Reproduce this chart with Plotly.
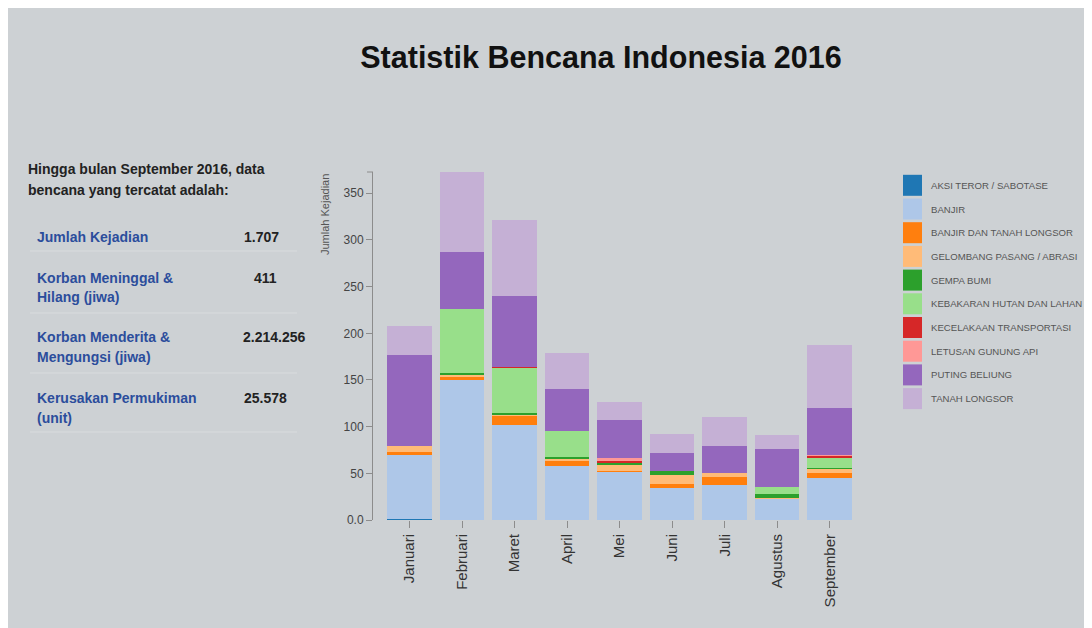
import plotly.graph_objects as go

# ---------------- data ----------------
months = ["Januari", "Februari", "Maret", "April", "Mei", "Juni", "Juli", "Agustus", "September"]

series_names = [
    "AKSI TEROR / SABOTASE", "BANJIR", "BANJIR DAN TANAH LONGSOR",
    "GELOMBANG PASANG / ABRASI", "GEMPA BUMI", "KEBAKARAN HUTAN DAN LAHAN",
    "KECELAKAAN TRANSPORTASI", "LETUSAN GUNUNG API", "PUTING BELIUNG", "TANAH LONGSOR",
]
colors = ["#1f77b4", "#aec7e8", "#ff7f0e", "#ffbb78", "#2ca02c",
          "#98df8a", "#d62728", "#ff9896", "#9467bd", "#c5b0d5"]

aksi_teror = [1, 0, 0, 0, 0, 0, 0, 0, 0]
banjir = [69, 150, 102, 58, 52, 34, 37, 23, 45]
banjir_tanah_longsor = [3, 3, 10, 6, 1, 5, 9, 0, 5]
gelombang_pasang = [6, 3, 1, 2, 6, 9, 4, 1, 5]
gempa_bumi = [0, 2, 2, 1, 2, 5, 0, 4, 1]
kebakaran_hutan = [0, 68, 48, 28, 0, 0, 0, 7, 10]
kecelakaan_transportasi = [0, 0, 1, 0, 3, 0, 0, 0, 3]
letusan_gunung_api = [0, 0, 0, 0, 2, 0, 0, 0, 1]
puting_beliung = [98, 61, 76, 45, 41, 19, 29, 41, 50]
tanah_longsor = [31, 86, 81, 39, 19, 20, 31, 15, 68]

series_values = [aksi_teror, banjir, banjir_tanah_longsor, gelombang_pasang, gempa_bumi,
                 kebakaran_hutan, kecelakaan_transportasi, letusan_gunung_api,
                 puting_beliung, tanah_longsor]

y_tick_vals = [0, 50, 100, 150, 200, 250, 300, 350]
y_tick_text = ["0.0", "50", "100", "150", "200", "250", "300", "350"]

summary_header = ["Hingga bulan September 2016, data", "bencana yang tercatat adalah:"]
summary_labels = [["Jumlah Kejadian"], ["Korban Meninggal &", "Hilang (jiwa)"],
                  ["Korban Menderita &", "Mengungsi (jiwa)"], ["Kerusakan Permukiman", "(unit)"]]
summary_values = ["1.707", "411", "2.214.256", "25.578"]

# ---------------- layout geometry (pixels) ----------------
# page body has an 8px margin, so figure pixel = screen pixel - 8
OFF = 8
W, H = 1092, 628
L, T = 373 - OFF, 172 - OFF
PW, PH = 483, 348
R = W - L - PW
B = H - T - PH


def pxx(x):  # screen x -> paper x
    return (x - OFF - L) / PW


def pxy(y):  # screen y -> paper y
    return (T + PH - (y - OFF)) / PH


BG = "#cdd1d4"
FONT = "Liberation Sans, Arial, sans-serif"

fig = go.Figure()
for name, vals, col in zip(series_names, series_values, colors):
    fig.add_trace(go.Bar(x=months, y=vals, name=name, marker=dict(color=col, line=dict(width=0)),
                         showlegend=False))

shapes = []
annotations = []

# outer tick at top of y axis
shapes.append(dict(type="line", xref="paper", yref="paper", x0=-6 / PW, x1=0, y0=1, y1=1,
                   line=dict(color="#8c8c8c", width=1)))

# legend (swatch + label per series)
for i, (name, col) in enumerate(zip(series_names, colors)):
    cy = 185.3 + 23.7 * i
    shapes.append(dict(type="rect", xref="paper", yref="paper", x0=pxx(903), x1=pxx(922),
                       y0=pxy(cy + 10.5), y1=pxy(cy - 10.5), fillcolor=col, line=dict(width=0)))
    annotations.append(dict(text=name, xref="paper", yref="paper", x=pxx(929), y=pxy(cy),
                            xanchor="left", yanchor="middle", showarrow=False,
                            font=dict(family=FONT, size=9.6, color="#555555")))

# left summary panel
for txt, y in zip(summary_header, [169, 190]):
    annotations.append(dict(text="<b>%s</b>" % txt, xref="paper", yref="paper", x=pxx(26), y=pxy(y),
                            xanchor="left", yanchor="middle", showarrow=False,
                            font=dict(family=FONT, size=14, color="#222222")))

row_y = [[237], [277.7, 296.7], [336.7, 356.7], [398.3, 418.3]]
for lines, ys in zip(summary_labels, row_y):
    for txt, y in zip(lines, ys):
        annotations.append(dict(text="<b>%s</b>" % txt, xref="paper", yref="paper", x=pxx(35), y=pxy(y),
                                xanchor="left", yanchor="middle", showarrow=False,
                                font=dict(family=FONT, size=14, color="#2b4d9c")))

value_pos = [(242, "left"), (279, "right"), (241, "left"), (242, "left")]
for val, (x, anc), ys in zip(summary_values, value_pos, row_y):
    annotations.append(dict(text="<b>%s</b>" % val, xref="paper", yref="paper", x=pxx(x), y=pxy(ys[0]),
                            xanchor=anc, yanchor="middle", showarrow=False,
                            font=dict(family=FONT, size=14, color="#222222")))

for y in [251, 313, 373, 432]:
    shapes.append(dict(type="line", xref="paper", yref="paper", x0=pxx(30), x1=pxx(297),
                       y0=pxy(y), y1=pxy(y), line=dict(color="#d9dcde", width=1)))

# y axis title
annotations.append(dict(text="Jumlah Kejadian", xref="paper", yref="paper", x=pxx(325), y=pxy(215),
                        xanchor="center", yanchor="middle", textangle=-90, showarrow=False,
                        font=dict(family=FONT, size=11, color="#555555")))

fig.update_layout(
    width=W, height=H,
    margin=dict(l=L, r=R, t=T, b=B, autoexpand=False),
    paper_bgcolor=BG, plot_bgcolor="rgba(0,0,0,0)",
    barmode="stack", bargap=0.152,
    title=dict(text="<b>Statistik Bencana Indonesia 2016</b>", x=(601 - OFF) / W, xref="container",
               xanchor="center", y=(H - (57 - OFF)) / H, yanchor="middle",
               font=dict(family=FONT, size=30.5, color="#111111")),
    xaxis=dict(range=[-0.695, 8.5], showline=False, showgrid=False, zeroline=False,
               ticks="outside", ticklen=7, tickcolor="#8c8c8c", tickangle=-90,
               tickfont=dict(family=FONT, size=15, color="#333333")),
    yaxis=dict(range=[0, 372.8], showline=True, linecolor="#8c8c8c", linewidth=1,
               showgrid=False, zeroline=False, ticks="outside", ticklen=6, tickcolor="#8c8c8c",
               tickvals=y_tick_vals, ticktext=y_tick_text,
               tickfont=dict(family=FONT, size=12, color="#444444")),
    shapes=shapes, annotations=annotations,
    showlegend=False,
)

fig.write_html("out.html")
